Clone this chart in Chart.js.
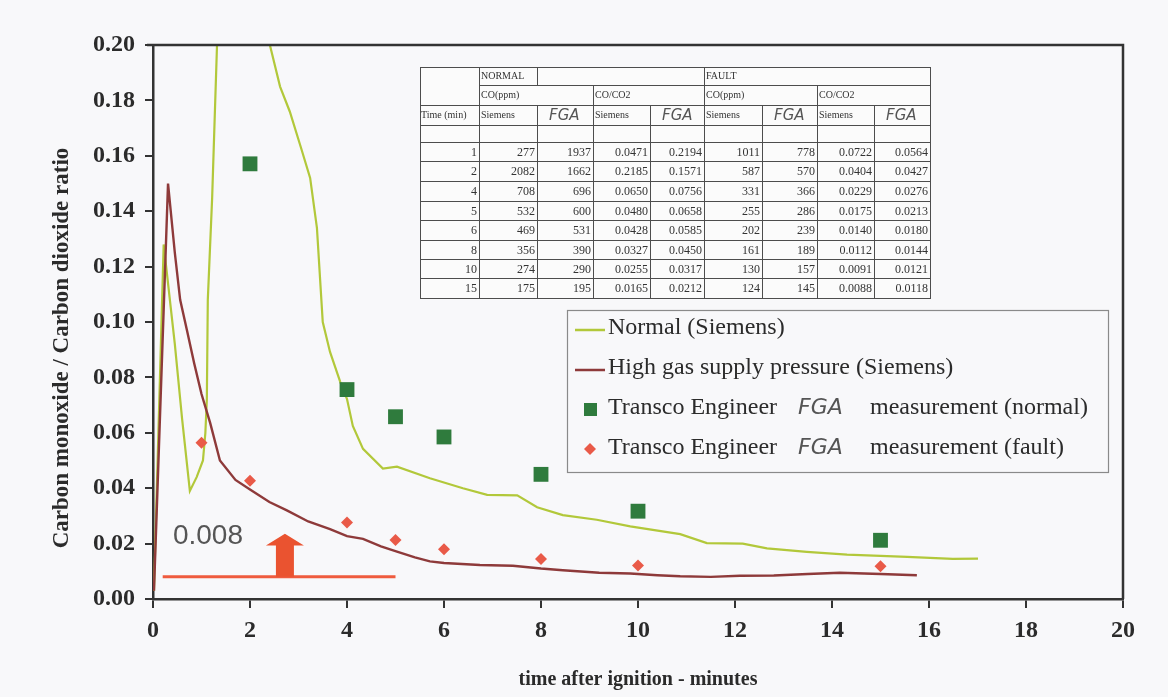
<!DOCTYPE html>
<html>
<head>
<meta charset="utf-8">
<script src="https://cdn.jsdelivr.net/npm/chart.js@4.4.1/dist/chart.umd.min.js"></script>
<style>
  html, body { margin: 0; padding: 0; background: #f8f8fa; }
  canvas { display: block; }
</style>
</head>
<body>
<canvas id="chart" width="1168" height="697"></canvas>
<script>
// ---- Siemens analyser traces (CO/CO2 ratio against minutes after ignition) ----
const normalTime  = [0.02,0.22,0.45,0.60,0.76,0.90,1.03,1.08,1.11,1.13,1.22,1.32,1.60,2.00,2.30,2.41,2.62,2.82,3.05,3.24,3.38,3.50,3.65,3.86,4.00,4.12,4.33,4.74,5.03,5.71,6.39,6.89,7.51,7.92,8.45,9.15,9.84,10.87,11.42,12.16,12.66,13.48,14.31,15.55,16.49,17.01];
const normalRatio = [0.003,0.128,0.092,0.065,0.039,0.044,0.050,0.060,0.072,0.108,0.145,0.200,0.212,0.2185,0.208,0.200,0.185,0.176,0.163,0.152,0.134,0.100,0.0892,0.0784,0.0722,0.0625,0.0542,0.0471,0.0478,0.0436,0.0400,0.0376,0.0374,0.0331,0.0303,0.0286,0.0262,0.0234,0.0202,0.0200,0.0183,0.0170,0.0160,0.0152,0.0145,0.0146];

const faultTime  = [0.02,0.31,0.45,0.56,0.70,0.85,1.00,1.18,1.38,1.70,2.00,2.40,2.76,3.20,3.65,4.00,4.33,4.70,5.03,5.40,5.71,6.00,6.74,7.42,8.00,8.45,9.20,9.84,10.40,10.87,11.50,12.10,12.80,13.50,14.16,15.00,15.75];
const faultRatio = [0.003,0.150,0.125,0.108,0.097,0.085,0.074,0.0635,0.050,0.043,0.0395,0.035,0.032,0.028,0.0252,0.0227,0.0217,0.019,0.0171,0.015,0.0136,0.0130,0.0123,0.0120,0.0110,0.0104,0.0095,0.0092,0.0086,0.0082,0.0080,0.0084,0.0085,0.0090,0.0095,0.0090,0.0086];

// ---- Results table (minutes, CO ppm and CO/CO2 for both analysers) ----
const tableTimes         = [1, 2, 4, 5, 6, 8, 10, 15];
const normalCoSiemens    = [277, 2082, 708, 532, 469, 356, 274, 175];
const normalCoFga        = [1937, 1662, 696, 600, 531, 390, 290, 195];
const normalRatioSiemens = [0.0471, 0.2185, 0.0650, 0.0480, 0.0428, 0.0327, 0.0255, 0.0165];
const normalRatioFga     = [0.2194, 0.1571, 0.0756, 0.0658, 0.0585, 0.0450, 0.0317, 0.0212];
const faultCoSiemens     = [1011, 587, 331, 255, 202, 161, 130, 124];
const faultCoFga         = [778, 570, 366, 286, 239, 189, 157, 145];
const faultRatioSiemens  = [0.0722, 0.0404, 0.0229, 0.0175, 0.0140, 0.0112, 0.0091, 0.0088];
const faultRatioFga      = [0.0564, 0.0427, 0.0276, 0.0213, 0.0180, 0.0144, 0.0121, 0.0118];

// ---- Threshold marker and axes ----
const thresholdValue = 0.008;
const thresholdLabel = '0.008';
const xTickValues = [0, 2, 4, 6, 8, 10, 12, 14, 16, 18, 20];
const yTickValues = [0, 0.02, 0.04, 0.06, 0.08, 0.10, 0.12, 0.14, 0.16, 0.18, 0.20];
const xTitle = 'time after ignition - minutes';
const yTitle = 'Carbon monoxide / Carbon dioxide ratio';
const seriesLabels = [
  'Normal (Siemens)',
  'High gas supply pressure (Siemens)',
  'Transco Engineer FGA measurement (normal)',
  'Transco Engineer FGA measurement (fault)'
];

const toPoints = (xs, ys) => xs.map((x, i) => ({ x: x, y: ys[i] }));

const COL = {
  normal: '#b2c83a',
  fault: '#8e3a3a',
  fgaNormal: '#2f7b3d',
  fgaFault: '#e95a48',
  marker: '#ef5b3e',
  ink: '#2b2b2b'
};
const SERIF = '"Liberation Serif", "Times New Roman", serif';
const HAND = '"DejaVu Sans", sans-serif';

// Background, frame, threshold line with arrow, table, legend and axis titles
const decorations = {
  id: 'decorations',
  beforeDraw(chart) {
    const ctx = chart.ctx;
    ctx.save();
    ctx.fillStyle = '#f8f8fa';
    ctx.fillRect(0, 0, chart.width, chart.height);
    ctx.restore();
  },
  beforeDatasetsDraw(chart) {
    const ctx = chart.ctx, xs = chart.scales.x, ys = chart.scales.y;
    ctx.save();
    // horizontal threshold line
    const yT = ys.getPixelForValue(thresholdValue);
    ctx.strokeStyle = COL.marker;
    ctx.lineWidth = 3;
    ctx.beginPath();
    ctx.moveTo(xs.getPixelForValue(0.2), yT);
    ctx.lineTo(xs.getPixelForValue(5.0), yT);
    ctx.stroke();
    // upward block arrow sitting on the line
    const ax = xs.getPixelForValue(2.72);
    const headBase = ys.getPixelForValue(0.0193);
    const tip = ys.getPixelForValue(0.0236);
    ctx.fillStyle = '#ea5330';
    ctx.beginPath();
    ctx.moveTo(ax - 9, yT);
    ctx.lineTo(ax + 9, yT);
    ctx.lineTo(ax + 9, headBase);
    ctx.lineTo(ax + 19, headBase);
    ctx.lineTo(ax, tip);
    ctx.lineTo(ax - 19, headBase);
    ctx.lineTo(ax - 9, headBase);
    ctx.closePath();
    ctx.fill();
    // value text
    ctx.fillStyle = '#555';
    ctx.font = '28px "Liberation Sans", Arial, sans-serif';
    ctx.textBaseline = 'middle';
    ctx.textAlign = 'left';
    ctx.fillText(thresholdLabel, xs.getPixelForValue(0.41), ys.getPixelForValue(0.0228));
    ctx.restore();
  },
  afterDraw(chart) {
    const ctx = chart.ctx, a = chart.chartArea;
    ctx.save();
    // top and right frame lines
    ctx.strokeStyle = '#333';
    ctx.lineWidth = 2.5;
    ctx.beginPath();
    ctx.moveTo(a.left - 6, a.top);
    ctx.lineTo(a.right, a.top);
    ctx.lineTo(a.right, a.bottom);
    ctx.stroke();

    drawTable(ctx);
    drawLegend(ctx);

    // axis titles
    ctx.fillStyle = COL.ink;
    ctx.font = 'bold 20px ' + SERIF;
    ctx.textAlign = 'center';
    ctx.textBaseline = 'middle';
    ctx.fillText(xTitle, 638, 680);
    ctx.save();
    ctx.translate(62, 348);
    ctx.rotate(-Math.PI / 2);
    ctx.font = 'bold 23px ' + SERIF;
    ctx.fillText(yTitle, 0, 0);
    ctx.restore();
    ctx.restore();
  }
};

function drawTable(ctx) {
  const cx = [420, 479, 537, 593, 650, 704, 762, 817, 874, 930];
  const ry = [67, 85, 105, 125, 142, 161, 181, 201, 220, 240, 259, 278, 298];
  ctx.save();
  ctx.fillStyle = '#fbfbfb';
  ctx.fillRect(cx[0], ry[0], cx[9] - cx[0], ry[12] - ry[0]);
  ctx.strokeStyle = '#4d4d4d';
  ctx.lineWidth = 1;
  const hl = (y, x0, x1) => { ctx.beginPath(); ctx.moveTo(x0, y + 0.5); ctx.lineTo(x1, y + 0.5); ctx.stroke(); };
  const vl = (x, y0, y1) => { ctx.beginPath(); ctx.moveTo(x + 0.5, y0); ctx.lineTo(x + 0.5, y1); ctx.stroke(); };
  ctx.strokeRect(cx[0] + 0.5, ry[0] + 0.5, cx[9] - cx[0], ry[12] - ry[0]);
  hl(ry[1], cx[1], cx[9]);
  for (let i = 2; i < 12; i++) hl(ry[i], cx[0], cx[9]);
  vl(cx[1], ry[0], ry[12]);
  vl(cx[2], ry[0], ry[1]);
  vl(cx[5], ry[0], ry[12]);
  vl(cx[3], ry[1], ry[12]);
  vl(cx[7], ry[1], ry[12]);
  [2, 4, 6, 8].forEach(k => vl(cx[k], ry[2], ry[12]));

  const mid = r => (ry[r] + ry[r + 1]) / 2;
  ctx.fillStyle = '#333';
  ctx.textBaseline = 'middle';
  ctx.textAlign = 'left';
  ctx.font = '10px ' + SERIF;
  ctx.fillText('NORMAL', cx[1] + 2, mid(0));
  ctx.fillText('FAULT', cx[5] + 2, mid(0));
  ctx.fillText('CO(ppm)', cx[1] + 2, mid(1));
  ctx.fillText('CO/CO2', cx[3] + 2, mid(1));
  ctx.fillText('CO(ppm)', cx[5] + 2, mid(1));
  ctx.fillText('CO/CO2', cx[7] + 2, mid(1));
  ctx.fillText('Time (min)', cx[0] + 1, mid(2));
  [1, 3, 5, 7].forEach(k => ctx.fillText('Siemens', cx[k] + 2, mid(2)));
  ctx.font = 'italic 15px ' + HAND;
  ctx.fillStyle = '#555';
  [2, 4, 6, 8].forEach(k => ctx.fillText('FGA', cx[k] + 12, mid(2) + 1));

  // data rows, right aligned
  ctx.fillStyle = '#333';
  ctx.font = '12px ' + SERIF;
  ctx.textAlign = 'right';
  const cols = [
    tableTimes.map(String),
    normalCoSiemens.map(String), normalCoFga.map(String),
    normalRatioSiemens.map(v => v.toFixed(4)), normalRatioFga.map(v => v.toFixed(4)),
    faultCoSiemens.map(String), faultCoFga.map(String),
    faultRatioSiemens.map(v => v.toFixed(4)), faultRatioFga.map(v => v.toFixed(4))
  ];
  cols.forEach((col, c) => {
    col.forEach((txt, r) => ctx.fillText(txt, cx[c + 1] - 2, mid(r + 4) + 1));
  });
  ctx.restore();
}

function drawLegend(ctx) {
  const x0 = 567, y0 = 310, x1 = 1108, y1 = 472;
  const rows = [328, 368, 408, 448];
  ctx.save();
  ctx.strokeStyle = '#8a8a8a';
  ctx.lineWidth = 1.2;
  ctx.strokeRect(x0 + 0.5, y0 + 0.5, x1 - x0, y1 - y0);

  ctx.lineWidth = 2.5;
  ctx.strokeStyle = COL.normal;
  ctx.beginPath(); ctx.moveTo(575, rows[0] + 2); ctx.lineTo(605, rows[0] + 2); ctx.stroke();
  ctx.strokeStyle = COL.fault;
  ctx.beginPath(); ctx.moveTo(575, rows[1] + 2); ctx.lineTo(605, rows[1] + 2); ctx.stroke();
  ctx.fillStyle = COL.fgaNormal;
  ctx.fillRect(584, rows[2] - 5, 13, 13);
  ctx.fillStyle = COL.fgaFault;
  ctx.beginPath();
  ctx.moveTo(590, rows[3] - 5); ctx.lineTo(596, rows[3] + 1);
  ctx.lineTo(590, rows[3] + 7); ctx.lineTo(584, rows[3] + 1);
  ctx.closePath(); ctx.fill();

  ctx.fillStyle = COL.ink;
  ctx.font = '24px ' + SERIF;
  ctx.textAlign = 'left';
  ctx.textBaseline = 'middle';
  ctx.fillText(seriesLabels[0], 608, rows[0]);
  ctx.fillText(seriesLabels[1], 608, rows[1]);
  [2, 3].forEach(i => {
    const parts = seriesLabels[i].split(' FGA ');
    ctx.fillStyle = COL.ink;
    ctx.font = '24px ' + SERIF;
    ctx.fillText(parts[0], 608, rows[i]);
    ctx.fillText(parts[1], 870, rows[i]);
    ctx.fillStyle = '#555';
    ctx.font = 'italic 22px ' + HAND;
    ctx.fillText('FGA', 798, rows[i]);
  });
  ctx.restore();
}

const tickFont = { family: SERIF, size: 24, weight: 'bold' };

new Chart(document.getElementById('chart'), {
  type: 'line',
  data: {
    datasets: [
      {
        label: seriesLabels[0],
        data: toPoints(normalTime, normalRatio),
        borderColor: COL.normal,
        borderWidth: 2.2,
        pointRadius: 0,
        tension: 0,
        clip: 0,
        order: 3
      },
      {
        label: seriesLabels[1],
        data: toPoints(faultTime, faultRatio),
        borderColor: COL.fault,
        borderWidth: 2.4,
        pointRadius: 0,
        tension: 0,
        clip: 0,
        order: 2
      },
      {
        label: seriesLabels[2],
        data: toPoints(tableTimes, normalRatioFga),
        showLine: false,
        pointStyle: 'rect',
        pointRadius: 10.5,
        pointBackgroundColor: COL.fgaNormal,
        pointBorderWidth: 0,
        clip: 0,
        order: 1
      },
      {
        label: seriesLabels[3],
        data: toPoints(tableTimes, faultRatioFga),
        showLine: false,
        pointStyle: 'rectRot',
        pointRadius: 6,
        pointBackgroundColor: COL.fgaFault,
        pointBorderWidth: 0,
        clip: 0,
        order: 0
      }
    ]
  },
  options: {
    responsive: false,
    animation: false,
    devicePixelRatio: 1,
    layout: { padding: { left: 0, top: 45, right: 45, bottom: 0 } },
    plugins: {
      legend: { display: false },
      tooltip: { enabled: false }
    },
    scales: {
      x: {
        type: 'linear',
        min: 0,
        max: 20,
        afterBuildTicks: s => { s.ticks = xTickValues.map(v => ({ value: v })); },
        afterFit: s => { s.height = 98; },
        ticks: { font: tickFont, color: COL.ink, padding: 8, maxRotation: 0, autoSkip: false },
        grid: { drawOnChartArea: false, tickLength: 9, color: '#333', lineWidth: 2 },
        border: { color: '#333', width: 2.5 }
      },
      y: {
        type: 'linear',
        min: 0,
        max: 0.2,
        afterBuildTicks: s => { s.ticks = yTickValues.map(v => ({ value: v })); },
        afterFit: s => { s.width = 153; },
        ticks: { font: tickFont, color: COL.ink, padding: 10, autoSkip: false, callback: v => v.toFixed(2) },
        grid: { drawOnChartArea: false, tickLength: 8, color: '#333', lineWidth: 2 },
        border: { color: '#333', width: 2.5 }
      }
    }
  },
  plugins: [decorations]
});
</script>
</body>
</html>
